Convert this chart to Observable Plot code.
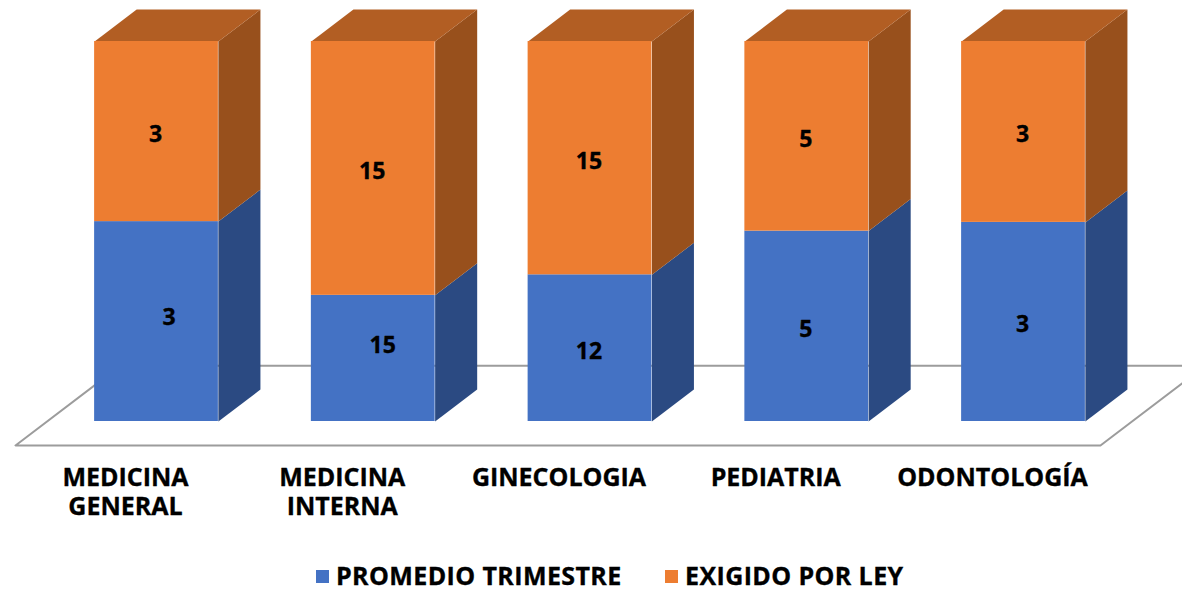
<!DOCTYPE html>
<html>
<head>
<meta charset="utf-8">
<script src="https://cdn.jsdelivr.net/npm/d3@7"></script>
<script src="https://cdn.jsdelivr.net/npm/@observablehq/plot@0.6"></script>
<style>
  html, body { margin: 0; padding: 0; background: #fff; overflow: hidden; }
  #chart svg { display: block; }
  #legend { position: relative; height: 45px; font: bold 25px "Open Sans", sans-serif; letter-spacing: 0.4px; -webkit-text-stroke: 0.35px #000; color: #000; }
  #legend .sw { position: absolute; top: 25px; width: 13px; height: 13px; }
  #legend .tx { position: absolute; top: 17px; line-height: 26px; white-space: nowrap; }
</style>
</head>
<body>
<div id="chart"></div>
<div id="legend"></div>
<script>
// Data
const categories = ["MEDICINA\nGENERAL", "MEDICINA\nINTERNA", "GINECOLOGIA", "PEDIATRIA", "ODONTOLOGÍA"];
const promedioLabels = [3, 15, 12, 5, 3];
const exigidoLabels = [3, 15, 15, 5, 3];
// Drawn share of each full-height column taken by the lower segment (percent)
const promedioShare = [52.6, 33.2, 38.6, 50.1, 52.4];
const seriesNames = ["PROMEDIO TRIMESTRE", "EXIGIDO POR LEY"];
const seriesColors = ["#4472C4", "#ED7D31"];

// Built from the arrays above
const halfBar = 0.2855, depthX = 0.194, depthY = 8.42;
const fronts = categories.flatMap((c, i) => [
  {i, series: seriesNames[0], y1: 0, y2: promedioShare[i], label: promedioLabels[i]},
  {i, series: seriesNames[1], y1: promedioShare[i], y2: 100, label: exigidoLabels[i]}
]);
const sidePoly = d => [
  {id: d.i, x: d.i + halfBar, y: d.y1},
  {id: d.i, x: d.i + halfBar + depthX, y: d.y1 + depthY},
  {id: d.i, x: d.i + halfBar + depthX, y: d.y2 + depthY},
  {id: d.i, x: d.i + halfBar, y: d.y2}
];
const topPoly = categories.flatMap((c, i) => [
  {id: i, x: i - halfBar, y: 100},
  {id: i, x: i + halfBar, y: 100},
  {id: i, x: i + halfBar + depthX, y: 100 + depthY},
  {id: i, x: i - halfBar + depthX, y: 100 + depthY}
]);
const floorFront = -6.3, floorBack = 14.7;
const floorLine = [
  {x: -0.166, y: floorBack}, {x: -0.6505, y: floorFront},
  {x: 4.355, y: floorFront}, {x: 4.84, y: floorBack}, {x: -0.166, y: floorBack}
];
const faceOptions = {x: "x", y: "y", z: "id", stroke: "none", curve: "linear-closed"};
const lblFont = {fontFamily: "Open Sans, sans-serif", fontWeight: "bold", fill: "#000", stroke: "#000", strokeWidth: 0.35};
const labelRows = fronts.map(d => ({...d, mid: (d.y1 + d.y2) / 2}));
const isNudged = d => d.series === seriesNames[0] && d.i < 2;

const plot = Plot.plot({
  width: 1182,
  height: 545,
  margin: 0,
  style: {background: "#fff"},
  x: {type: "linear", domain: [-156 / 216.75, (1182 - 156) / 216.75], range: [0, 1182], axis: null},
  y: {type: "linear", domain: [0, 100], range: [421, 41], axis: null},
  color: {domain: seriesNames, range: seriesColors},
  marks: [
    Plot.line(floorLine, {x: "x", y: "y", stroke: "#9C9C9C", strokeWidth: 2, clip: true}),
    Plot.line(fronts.filter(d => d.series === seriesNames[0]).flatMap(sidePoly), {...faceOptions, fill: "#2B4A82"}),
    Plot.line(fronts.filter(d => d.series === seriesNames[1]).flatMap(sidePoly), {...faceOptions, fill: "#98501C"}),
    Plot.line(topPoly, {...faceOptions, fill: "#B25E23"}),
    Plot.rect(fronts, {
      x1: d => d.i - halfBar, x2: d => d.i + halfBar,
      y1: "y1", y2: "y2", fill: "series"
    }),
    Plot.text(labelRows.filter(d => !isNudged(d)), {
      x: d => d.i, y: "mid", text: "label", dx: -1, dy: 3, fontSize: 23, ...lblFont
    }),
    Plot.text(labelRows.filter(d => isNudged(d) && d.i === 0), {
      x: d => d.i, y: "mid", text: "label", dx: 12.5, dy: -3.5, fontSize: 23, ...lblFont
    }),
    Plot.text(labelRows.filter(d => isNudged(d) && d.i === 1), {
      x: d => d.i, y: "mid", text: "label", dx: 9.5, dy: -13, fontSize: 23, ...lblFont
    }),
    Plot.text(categories, {
      x: (d, i) => i, y: () => -11.6, text: d => d, dx: -31,
      lineAnchor: "top", lineHeight: 1.16, fontSize: 25, letterSpacing: 0.4, ...lblFont
    })
  ]
});
document.getElementById("chart").append(plot);

const lg = document.getElementById("legend");
[[316, 336], [665, 685]].forEach(([sx, tx], k) => {
  const s = document.createElement("span");
  s.className = "sw"; s.style.left = sx + "px"; s.style.background = seriesColors[k];
  const t = document.createElement("span");
  t.className = "tx"; t.style.left = tx + "px"; t.textContent = seriesNames[k];
  lg.append(s, t);
});
</script>
</body>
</html>
